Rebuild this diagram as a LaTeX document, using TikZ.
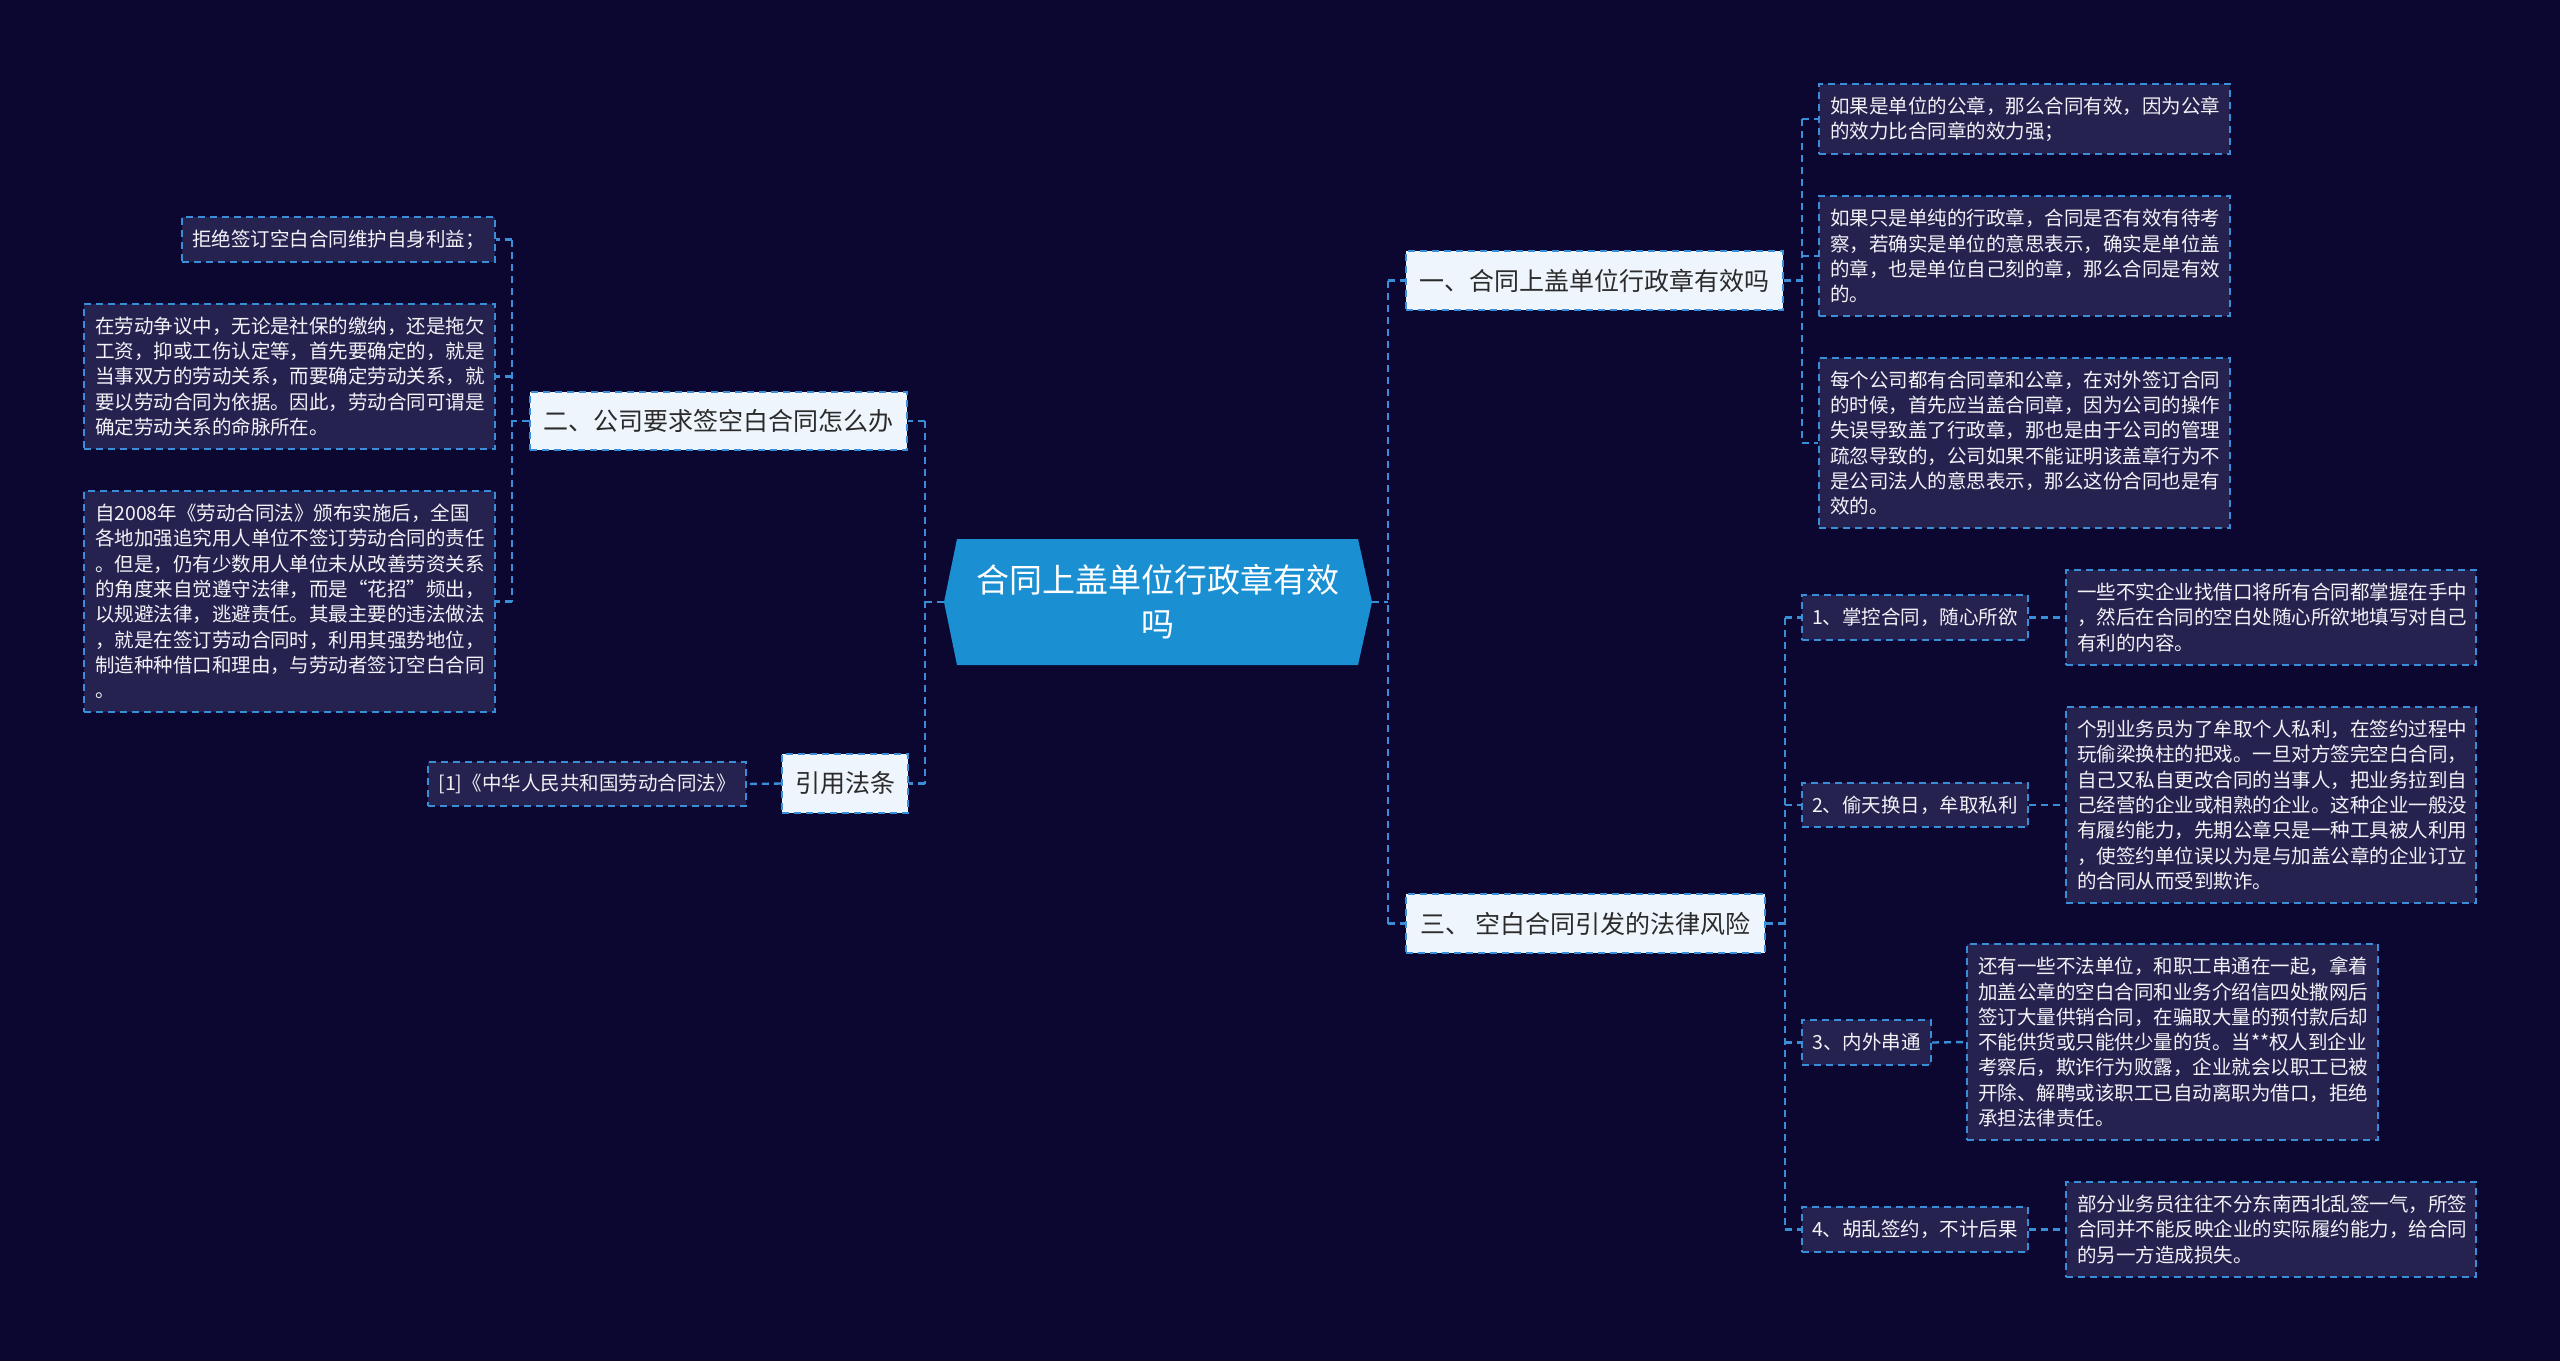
\documentclass[tikz,border=0pt]{standalone}
\usepackage{fontspec}
\setmainfont{Noto Sans CJK SC}
\definecolor{bgcol}{HTML}{0B0730}
\definecolor{rootcol}{HTML}{1A8FD2}
\definecolor{linecol}{HTML}{3A8ED8}
\definecolor{branchcol}{HTML}{EEF5FC}
\definecolor{branchtext}{HTML}{2B2B2B}
\definecolor{leafcol}{HTML}{262250}
\definecolor{leaftext}{HTML}{F2F2F7}
\tikzset{
  conn/.style={draw=linecol, line width=2.4pt, dash pattern=on 7pt off 5pt},
  dashbox/.style={draw=linecol, line width=2.4pt, dash pattern=on 7pt off 5pt, inner sep=0pt, anchor=center},
  leafbox/.style={dashbox, fill=leafcol, text=leaftext, font=\fontsize{19.5}{25.3}\selectfont, align=left, inner xsep=11pt},
  subbox/.style={dashbox, fill=leafcol, text=leaftext, font=\fontsize{19.5}{25.3}\selectfont, align=center},
  branchbox/.style={dashbox, fill=branchcol, text=branchtext, font=\fontsize{25}{30}\selectfont, align=center},
}
\begin{document}
\begin{tikzpicture}[x=1pt,y=-1pt]
\useasboundingbox (0,0) rectangle (2560,1361);
\fill[bgcol] (0,0) rectangle (2560,1361);

% root hexagon
\fill[rootcol] (944,602) -- (957,539) -- (1358,539) -- (1372,602) -- (1358,665) -- (957,665) -- cycle;
\node[minimum width=428pt, minimum height=126pt, inner sep=0pt, text=white, align=center,
      font=\fontsize{33}{44}\selectfont] (root) at (1158,602) {合同上盖单位行政章有效\\吗};

% right branches
\node[branchbox, minimum width=377pt, minimum height=59pt] (b1) at (1594.5,280.5) {一、合同上盖单位行政章有效吗};
\node[branchbox, minimum width=359pt, minimum height=59pt] (b3) at (1585.5,923.5) {三、 空白合同引发的法律风险};

% left branches
\node[branchbox, minimum width=377pt, minimum height=58pt] (b2) at (718.5,421) {二、公司要求签空白合同怎么办};
\node[branchbox, minimum width=126pt, minimum height=59pt] (b4) at (845,783.5) {引用法条};

% leaves of branch 1
\node[leafbox, text width=389pt, minimum height=70pt] (l1) at (2024.5,119) {如果是单位的公章，那么合同有效，因为公章\\的效力比合同章的效力强；};
\node[leafbox, text width=389pt, minimum height=120pt] (l2) at (2024.5,256) {如果只是单纯的行政章，合同是否有效有待考\\察，若确实是单位的意思表示，确实是单位盖\\的章，也是单位自己刻的章，那么合同是有效\\的。};
\node[leafbox, text width=389pt, minimum height=170pt] (l3) at (2024.5,443) {每个公司都有合同章和公章，在对外签订合同\\的时候，首先应当盖合同章，因为公司的操作\\失误导致盖了行政章，那也是由于公司的管理\\疏忽导致的，公司如果不能证明该盖章行为不\\是公司法人的意思表示，那么这份合同也是有\\效的。};

% sub-branches of branch 3
\node[subbox, minimum width=226pt, minimum height=45pt] (s1) at (1915,617.5) {1、掌控合同，随心所欲};
\node[subbox, minimum width=226pt, minimum height=44pt] (s2) at (1915,805) {2、偷天换日，牟取私利};
\node[subbox, minimum width=129pt, minimum height=45pt] (s3) at (1866.5,1042.5) {3、内外串通};
\node[subbox, minimum width=226pt, minimum height=45pt] (s4) at (1915,1229.5) {4、胡乱签约，不计后果};

\node[leafbox, text width=388pt, minimum height=95pt] (s1l) at (2271,617.5) {一些不实企业找借口将所有合同都掌握在手中\\，然后在合同的空白处随心所欲地填写对自己\\有利的内容。};
\node[leafbox, text width=388pt, minimum height=196pt] (s2l) at (2271,805) {个别业务员为了牟取个人私利，在签约过程中\\玩偷梁换柱的把戏。一旦对方签完空白合同，\\自己又私自更改合同的当事人，把业务拉到自\\己经营的企业或相熟的企业。这种企业一般没\\有履约能力，先期公章只是一种工具被人利用\\，使签约单位误以为是与加盖公章的企业订立\\的合同从而受到欺诈。};
\node[leafbox, text width=389pt, minimum height=196pt] (s3l) at (2172.5,1042) {还有一些不法单位，和职工串通在一起，拿着\\加盖公章的空白合同和业务介绍信四处撒网后\\签订大量供销合同，在骗取大量的预付款后却\\不能供货或只能供少量的货。当**权人到企业\\考察后，欺诈行为败露，企业就会以职工已被\\开除、解聘或该职工已自动离职为借口，拒绝\\承担法律责任。};
\node[leafbox, text width=388pt, minimum height=95pt] (s4l) at (2271,1229.5) {部分业务员往往不分东南西北乱签一气，所签\\合同并不能反映企业的实际履约能力，给合同\\的另一方造成损失。};

% leaves of branch 2
\node[subbox, minimum width=313pt, minimum height=45pt] (la) at (338.5,239.5) {拒绝签订空白合同维护自身利益；};
\node[leafbox, text width=389pt, minimum height=145pt] (lb) at (289.5,376.5) {在劳动争议中，无论是社保的缴纳，还是拖欠\\工资，抑或工伤认定等，首先要确定的，就是\\当事双方的劳动关系，而要确定劳动关系，就\\要以劳动合同为依据。因此，劳动合同可谓是\\确定劳动关系的命脉所在。};
\node[leafbox, text width=389pt, minimum height=221pt] (lc) at (289.5,601.5) {自2008年《劳动合同法》颁布实施后，全国\\各地加强追究用人单位不签订劳动合同的责任\\。但是，仍有少数用人单位未从改善劳资关系\\的角度来自觉遵守法律，而是“花招”频出，\\以规避法律，逃避责任。其最主要的违法做法\\，就是在签订劳动合同时，利用其强势地位，\\制造种种借口和理由，与劳动者签订空白合同\\。};

% leaf of 引用法条
\node[subbox, minimum width=318pt, minimum height=44pt] (lr) at (587,784) {[1]《中华人民共和国劳动合同法》};

% connectors right: root -> branches 1 and 3
\coordinate (rs) at (1388,602);
\draw[conn] (root.east) -- (rs);
\draw[conn] (b1.west -| rs) -- (b3.west -| rs);
\draw[conn] (b1.west -| rs) -- (b1.west);
\draw[conn] (b3.west -| rs) -- (b3.west);

% branch 1 -> leaves
\coordinate (b1s) at (1802,280.5);
\draw[conn] (b1.east) -- (b1s);
\draw[conn] (l1.west -| b1s) -- (l3.west -| b1s);
\draw[conn] (l1.west -| b1s) -- (l1.west);
\draw[conn] (l2.west -| b1s) -- (l2.west);
\draw[conn] (l3.west -| b1s) -- (l3.west);

% branch 3 -> sub-branches
\coordinate (b3s) at (1785,923.5);
\draw[conn] (b3.east) -- (b3s);
\draw[conn] (s1.west -| b3s) -- (s4.west -| b3s);
\draw[conn] (s1.west -| b3s) -- (s1.west);
\draw[conn] (s2.west -| b3s) -- (s2.west);
\draw[conn] (s3.west -| b3s) -- (s3.west);
\draw[conn] (s4.west -| b3s) -- (s4.west);
\draw[conn] (s1.east) -- (s1l.west);
\draw[conn] (s2.east) -- (s2l.west);
\draw[conn] (s3.east) -- (s3l.west);
\draw[conn] (s4.east) -- (s4l.west);

% connectors left: root -> branches 2 and 4
\coordinate (ls) at (925,602);
\draw[conn] (root.west) -- (ls);
\draw[conn] (b2.east -| ls) -- (b4.east -| ls);
\draw[conn] (b2.east -| ls) -- (b2.east);
\draw[conn] (b4.east -| ls) -- (b4.east);

% branch 2 -> leaves
\coordinate (b2s) at (512,421);
\draw[conn] (b2.west) -- (b2s);
\draw[conn] (la.east -| b2s) -- (lc.east -| b2s);
\draw[conn] (la.east -| b2s) -- (la.east);
\draw[conn] (lb.east -| b2s) -- (lb.east);
\draw[conn] (lc.east -| b2s) -- (lc.east);

% branch 4 -> leaf
\draw[conn] (b4.west) -- (lr.east);
\end{tikzpicture}
\end{document}
